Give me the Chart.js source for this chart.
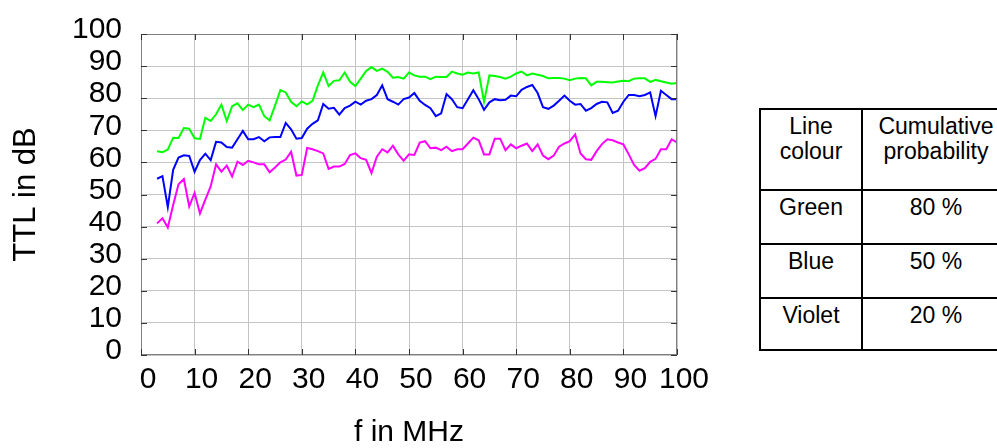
<!DOCTYPE html>
<html>
<head>
<meta charset="utf-8">
<script src="https://cdn.jsdelivr.net/npm/chart.js@4/dist/chart.umd.min.js"></script>
<style>
  html, body { margin: 0; padding: 0; background: #fff; overflow: hidden; }
  body { width: 997px; height: 448px; position: relative; font-family: "Liberation Sans", Arial, sans-serif; }
  #wrap { position: absolute; left: 0; top: 0; width: 720px; height: 448px; }
  table.legend {
    position: absolute; left: 759px; top: 108px; width: 250px; table-layout: fixed;
    border-collapse: collapse; font-size: 23px; line-height: 25px; color: #000;
  }
  table.legend td {
    border: 2px solid #000; text-align: center; vertical-align: top;
    padding: 4px 0 0 0; box-sizing: border-box;
  }
  table.legend col.c1 { width: 102px; }
  table.legend col.c2 { width: 148px; }
</style>
</head>
<body>
<div id="wrap"><canvas id="c" width="720" height="448"></canvas></div>
<table class="legend">
  <colgroup><col class="c1"><col class="c2"></colgroup>
  <tr style="height:81px"><td>Line<br>colour</td><td>Cumulative<br>probability</td></tr>
  <tr style="height:54px"><td>Green</td><td>80 %</td></tr>
  <tr style="height:54px"><td>Blue</td><td>50 %</td></tr>
  <tr style="height:52px"><td>Violet</td><td>20 %</td></tr>
</table>
<script>
const freq = [3, 4, 5, 6, 7, 8, 9, 10, 11, 12, 13, 14, 15, 16, 17, 18, 19, 20,
  21, 22, 23, 24, 25, 26, 27, 28, 29, 30, 31, 32, 33, 34, 35, 36, 37, 38, 39, 40,
  41, 42, 43, 44, 45, 46, 47, 48, 49, 50, 51, 52, 53, 54, 55, 56, 57, 58, 59, 60,
  61, 62, 63, 64, 65, 66, 67, 68, 69, 70, 71, 72, 73, 74, 75, 76, 77, 78, 79, 80,
  81, 82, 83, 84, 85, 86, 87, 88, 89, 90, 91, 92, 93, 94, 95, 96, 97, 98, 99, 100];

// 80 % cumulative probability
const green = [63.5, 63.2, 64.0, 67.7, 67.6, 70.7, 70.5, 67.5, 67.3, 73.9, 72.9, 75.0, 78.0, 72.9, 77.5, 78.4, 76.3, 78.0,
  77.2, 78.0, 74.4, 73.1, 77.7, 82.5, 81.8, 78.9, 77.5, 79.0, 78.1, 79.2, 84.0, 88.0, 83.8, 85.4, 85.6, 88.0, 85.1, 83.8,
  86.1, 88.5, 89.7, 88.5, 89.2, 88.2, 86.4, 86.6, 86.1, 88.0, 87.1, 86.7, 86.7, 85.9, 86.7, 86.6, 86.6, 88.3, 87.7, 87.3,
  88.0, 87.7, 88.0, 78.9, 87.1, 86.9, 86.6, 86.1, 86.7, 87.7, 88.3, 87.1, 87.7, 87.3, 86.9, 86.2, 86.3, 86.3, 86.1, 85.6,
  86.1, 86.3, 86.2, 84.0, 85.1, 85.1, 85.0, 84.9, 85.2, 85.4, 85.3, 86.1, 86.2, 86.2, 85.1, 85.7, 85.3, 84.9, 84.5, 84.7];

// 50 %
const blue = [54.9, 55.7, 46.1, 57.7, 61.5, 62.2, 62.0, 57.1, 60.7, 62.7, 60.7, 66.4, 66.2, 64.8, 64.6, 67.2, 69.8, 67.2,
  67.2, 67.9, 66.6, 67.8, 67.9, 67.9, 72.3, 70.3, 67.4, 67.6, 70.5, 72.0, 73.1, 78.2, 76.7, 77.0, 74.9, 76.9, 77.7, 78.9,
  78.0, 79.2, 79.7, 81.0, 84.0, 79.7, 78.9, 78.0, 79.7, 80.2, 81.6, 79.2, 77.9, 76.9, 74.4, 75.3, 81.3, 79.7, 77.2, 76.9,
  79.7, 82.5, 79.7, 76.4, 78.7, 79.7, 79.4, 79.5, 80.8, 80.6, 82.6, 83.5, 84.1, 81.6, 77.2, 76.7, 77.7, 79.2, 80.8, 79.2,
  78.0, 78.2, 76.1, 76.9, 78.2, 78.9, 78.7, 75.4, 76.1, 78.9, 81.0, 81.0, 80.6, 81.0, 81.8, 74.4, 82.3, 81.0, 79.7, 79.7];

// 20 %
const violet = [41.0, 42.6, 39.7, 46.7, 53.2, 54.8, 46.3, 50.5, 44.1, 48.4, 52.5, 59.4, 57.1, 59.0, 55.6, 60.2, 59.2, 60.5,
  60.0, 59.4, 59.4, 56.9, 58.4, 60.0, 60.9, 63.3, 55.9, 56.1, 64.5, 64.1, 63.5, 62.8, 58.0, 58.7, 58.7, 59.5, 62.3, 62.8,
  61.3, 60.8, 56.7, 61.8, 64.1, 63.1, 65.2, 62.5, 60.5, 62.5, 62.3, 66.2, 66.6, 64.4, 64.6, 63.8, 64.9, 63.5, 64.1, 64.1,
  65.9, 67.7, 66.9, 62.5, 62.5, 67.4, 67.4, 63.8, 65.6, 64.4, 65.2, 65.9, 63.5, 65.6, 62.1, 61.0, 62.1, 64.9, 65.9, 66.6,
  68.7, 62.8, 61.0, 60.8, 63.5, 65.7, 67.2, 66.9, 66.2, 65.6, 62.5, 59.2, 57.4, 58.2, 60.2, 61.1, 64.1, 64.1, 67.2, 66.2];

const xTicks = [0, 10, 20, 30, 40, 50, 60, 70, 80, 90, 100];
const yTicks = [0, 10, 20, 30, 40, 50, 60, 70, 80, 90, 100];

const toPoints = arr => arr.map((v, i) => ({ x: freq[i], y: v }));

// frame and short inward tick marks, like the original plot
const frameTicks = {
  id: 'frameTicks',
  afterDatasetsDraw(chart) {
    const { ctx, chartArea: a, scales: { x, y } } = chart;
    ctx.save();
    ctx.strokeStyle = '#808080';
    ctx.lineWidth = 1;
    ctx.strokeRect(a.left + 0.5, a.top + 0.5, a.right - a.left - 1, a.bottom - a.top - 1);
    ctx.strokeStyle = '#333';
    ctx.beginPath();
    yTicks.forEach(v => {
      const py = Math.round(y.getPixelForValue(v)) + 0.5;
      ctx.moveTo(a.left, py); ctx.lineTo(a.left + 6, py);
      ctx.moveTo(a.right, py); ctx.lineTo(a.right - 6, py);
    });
    xTicks.forEach(v => {
      const px = Math.round(x.getPixelForValue(v)) + 0.5;
      ctx.moveTo(px, a.bottom); ctx.lineTo(px, a.bottom - 6);
      ctx.moveTo(px, a.top); ctx.lineTo(px, a.top + 6);
    });
    ctx.stroke();
    ctx.restore();
  }
};

const font = '"Liberation Sans", Arial, sans-serif';

new Chart(document.getElementById('c'), {
  type: 'line',
  data: {
    datasets: [
      { label: 'Green', data: toPoints(green), borderColor: '#00ff00' },
      { label: 'Blue', data: toPoints(blue), borderColor: '#0000ff' },
      { label: 'Violet', data: toPoints(violet), borderColor: '#ff00ff' }
    ]
  },
  options: {
    responsive: false,
    animation: false,
    events: [],
    layout: { padding: { left: 0, right: 43, top: 31, bottom: 0 } },
    elements: {
      line: { borderWidth: 2, tension: 0 },
      point: { radius: 0 }
    },
    plugins: { legend: { display: false }, tooltip: { enabled: false } },
    scales: {
      x: {
        type: 'linear', min: 0, max: 100,
        afterBuildTicks: s => { s.ticks = xTicks.map(v => ({ value: v })); },
        afterFit: s => { s.height = 93; },
        grid: { color: '#c4c4c4', drawTicks: false },
        border: { display: false },
        ticks: { color: '#000', padding: 10, labelOffset: 7, maxRotation: 0, autoSkip: false,
                 font: { family: font, size: 30, lineHeight: 1 } },
        title: { display: true, text: 'f in MHz', color: '#000', padding: 0,
                 font: { family: font, size: 30, lineHeight: 1 } }
      },
      y: {
        type: 'linear', min: 0, max: 100,
        afterBuildTicks: s => { s.ticks = yTicks.map(v => ({ value: v })); },
        afterFit: s => { s.width = 141; },
        grid: { color: '#c4c4c4', drawTicks: false },
        border: { display: false },
        ticks: { color: '#000', padding: 19, labelOffset: -4, autoSkip: false,
                 font: { family: font, size: 30, lineHeight: 1 } },
        title: { display: true, text: 'TTL in dB', color: '#000', padding: { top: 11 },
                 font: { family: font, size: 31, lineHeight: 1 } }
      }
    }
  },
  plugins: [frameTicks]
});
</script>
</body>
</html>
